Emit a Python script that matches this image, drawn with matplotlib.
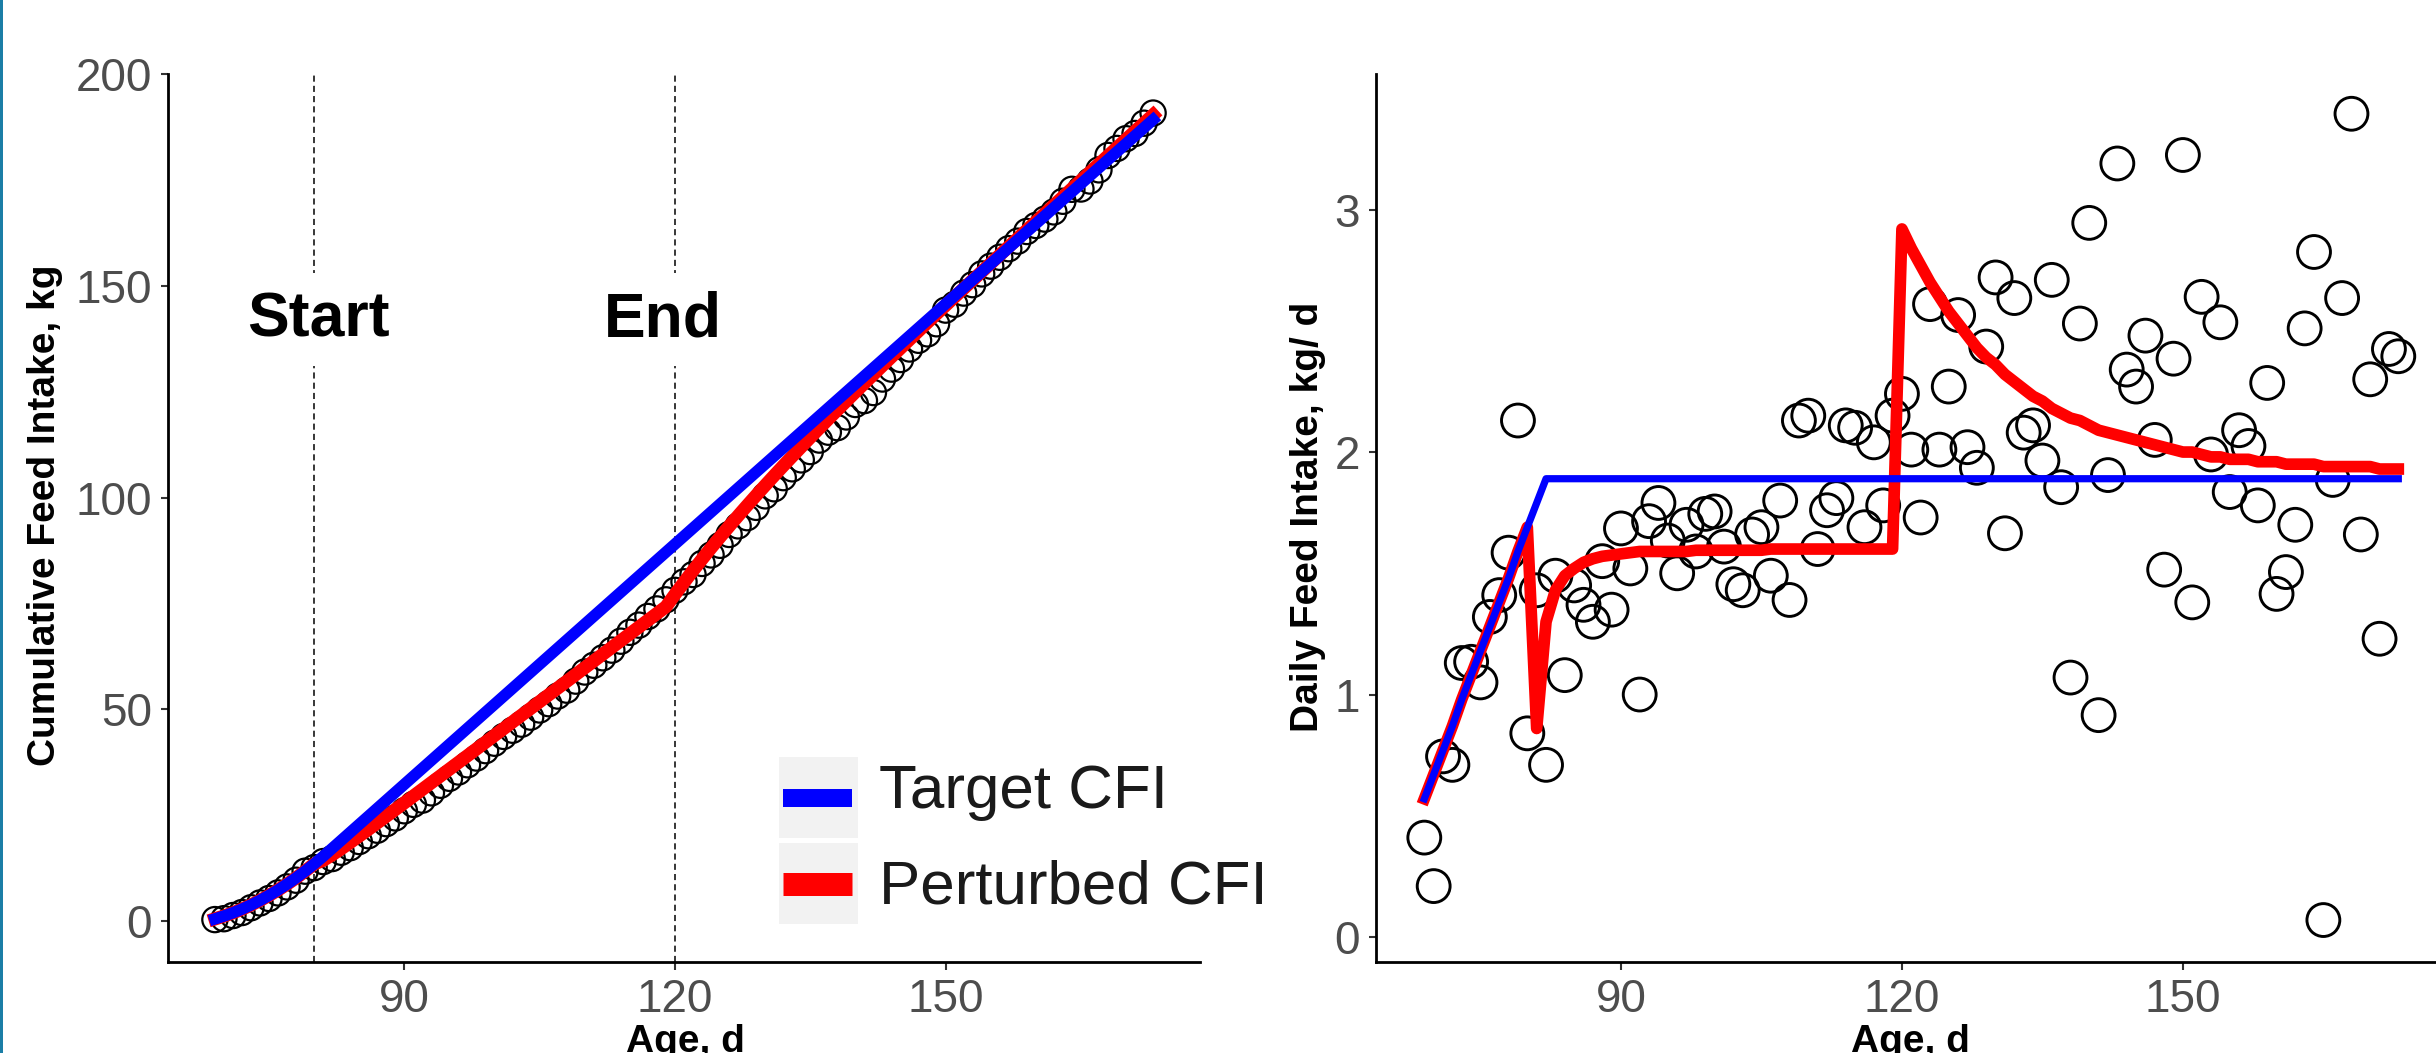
import numpy as np
import matplotlib
matplotlib.use("Agg")
import matplotlib.pyplot as plt
from matplotlib.lines import Line2D
from matplotlib.patches import Rectangle

plt.rcParams['font.family'] = ['Liberation Sans', 'DejaVu Sans']

# =========================
# Data
# =========================
age = list(range(69, 174))   # one record per day

# observed daily feed intake, kg/d
daily_intake = [
    0.41, 0.21, 0.745, 0.71, 1.13, 1.135, 1.05, 1.32, 1.41, 1.585,    # 69-78
    2.13, 0.84, 1.43, 0.71, 1.49, 1.08, 1.45, 1.37, 1.30, 1.55,       # 79-88
    1.35, 1.685, 1.52, 1.00, 1.715, 1.79, 1.635, 1.50, 1.70, 1.59,    # 89-98
    1.745, 1.755, 1.61, 1.455, 1.43, 1.66, 1.69, 1.49, 1.80, 1.39,    # 99-108
    2.13, 2.15, 1.60, 1.76, 1.81, 2.11, 2.10, 1.69, 2.04, 1.78,       # 109-118
    2.15, 2.24, 2.01, 1.73, 2.61, 2.01, 2.27, 2.565, 2.02, 1.935,     # 119-128
    2.435, 2.72, 1.665, 2.635, 2.08, 2.11, 1.965, 2.71, 1.855, 1.07,  # 129-138
    2.53, 2.945, 0.915, 1.905, 3.19, 2.34, 2.27, 2.48, 2.05, 1.515,   # 139-148
    2.385, 3.225, 1.38, 2.64, 1.99, 2.535, 1.835, 2.09, 2.025, 1.78,  # 149-158
    2.285, 1.415, 1.505, 1.70, 2.51, 2.825, 0.07, 1.885, 2.635, 3.395,  # 159-168
    1.66, 2.30, 1.23, 2.425, 2.395,                                   # 169-173
]

# target daily intake: ramp to day 82, then plateau
target_dfi = [0.57, 0.67, 0.77, 0.87, 0.98, 1.08, 1.18, 1.28, 1.38, 1.48,
              1.59, 1.69, 1.79, 1.89] + [1.89] * 91

# perturbed daily intake
perturbed_dfi = [
    0.57, 0.67, 0.77, 0.87, 0.98, 1.08, 1.18, 1.28, 1.38, 1.48, 1.59, 1.69,   # 69-80
    0.86, 1.30, 1.43, 1.49, 1.52, 1.545, 1.56, 1.57, 1.575, 1.58, 1.585, 1.59,  # 81-92
    1.59, 1.59, 1.59, 1.59, 1.59, 1.595, 1.595, 1.595, 1.595, 1.595, 1.595,
    1.595, 1.595, 1.60, 1.60, 1.60, 1.60, 1.60, 1.60, 1.60, 1.60, 1.60, 1.60,
    1.60, 1.60, 1.60, 1.60,                                                    # 93-119
    2.92, 2.84, 2.77, 2.70, 2.64, 2.58, 2.53, 2.48, 2.43, 2.39, 2.36, 2.32,
    2.29, 2.26, 2.23, 2.21, 2.18, 2.16, 2.14, 2.13, 2.11, 2.09, 2.08, 2.07,
    2.06, 2.05, 2.04, 2.03, 2.02, 2.01, 2.00, 2.00, 1.99, 1.98, 1.98, 1.97,
    1.97, 1.97, 1.96, 1.96, 1.96, 1.95, 1.95, 1.95, 1.95, 1.94, 1.94, 1.94,
    1.94, 1.94, 1.94, 1.93, 1.93, 1.93,                                        # 120-173
]

start_day, end_day = 80, 120
left_yticks = [0, 50, 100, 150, 200]
right_yticks = [0, 1, 2, 3]
xticks = [90, 120, 150]

# cumulative feed intake
cfi_obs = np.cumsum(daily_intake)
cfi_target = np.cumsum(target_dfi)
cfi_perturbed = np.cumsum(perturbed_dfi)

# =========================
# Figure
# =========================
W, H = 2436, 1053
fig = plt.figure(figsize=(W / 100, H / 100), dpi=100)

def fx(px):
    return px / W

def fy(py):
    return 1 - py / H

ax1 = fig.add_axes([fx(168), fy(962), fx(1200) - fx(168), fy(74) - fy(962)])
ax2 = fig.add_axes([fx(1375.6), fy(962), fx(2447) - fx(1375.6), fy(74) - fy(962)])

blue, red = "#0000FF", "#FF0000"

for ax in (ax1, ax2):
    for s in ("top", "right"):
        ax.spines[s].set_visible(False)
    for s in ("left", "bottom"):
        ax.spines[s].set_linewidth(2)
        ax.spines[s].set_color("black")
    ax.tick_params(axis="both", length=5.4, width=1.5, color="#333333",
                   pad=6, labelsize=33, labelcolor="#4D4D4D")
    ax.set_xticks(xticks)
    ax.set_xlim(63.8, 178.2)

# ---- left: cumulative feed intake
ax1.scatter(age, cfi_obs, s=330, facecolors="none", edgecolors="black",
            linewidths=1.6, zorder=2)
ax1.plot(age, cfi_perturbed, color=red, lw=9.5, solid_joinstyle="round", zorder=3)
ax1.plot(age, cfi_target, color=blue, lw=8.3, solid_joinstyle="round", zorder=4)
for d in (start_day, end_day):
    ax1.axvline(d, color="black", lw=1.1, dashes=(4, 2.7), zorder=1)
ax1.text(80.5, 142, "Start", fontsize=45, fontweight="bold", ha="center", va="center",
         bbox=dict(facecolor="white", edgecolor="none", pad=12), zorder=5)
ax1.text(118.7, 142, "End", fontsize=45, fontweight="bold", ha="center", va="center",
         bbox=dict(facecolor="white", edgecolor="none", pad=12), zorder=5)
ax1.set_ylim(-9.6, 200)
ax1.set_yticks(left_yticks)

# ---- right: daily feed intake
ax2.scatter(age, daily_intake, s=560, facecolors="none", edgecolors="black",
            linewidths=2.1, zorder=2)
ax2.plot(age, perturbed_dfi, color=red, lw=8.4, solid_joinstyle="round", zorder=3)
ax2.plot(age, target_dfi, color=blue, lw=5.2, solid_joinstyle="round", zorder=4)
ax2.set_ylim(-0.103, 3.559)
ax2.set_yticks(right_yticks)

# ---- axis titles
title_kw = dict(fontsize=28, fontweight="bold", color="black")
fig.text(fx(45), fy(515), "Cumulative Feed Intake, kg", rotation=90,
         ha="center", va="center", **title_kw)
fig.text(fx(1308), fy(517), "Daily Feed Intake, kg/ d", rotation=90,
         ha="center", va="center", **title_kw)
fig.text(fx(685), fy(1052), "Age, d", ha="center", va="baseline", **title_kw)
fig.text(fx(1910), fy(1052), "Age, d", ha="center", va="baseline", **title_kw)

# ---- legend (ggplot style keys)
keys = [("Target CFI", blue, 18, 757, 838, 808), ("Perturbed CFI", red, 23, 843, 924, 904)]
for label, col, lw_px, top, bot, base in keys:
    fig.add_artist(Rectangle((fx(778.5), fy(bot)), fx(857.7) - fx(778.5), fy(top) - fy(bot),
                             transform=fig.transFigure, facecolor="#F2F2F2",
                             edgecolor="none", zorder=6))
    yc = fy((top + bot) / 2)
    fig.add_artist(Line2D([fx(783), fx(852)], [yc, yc], transform=fig.transFigure,
                          color=col, lw=lw_px * 0.72, solid_capstyle="butt", zorder=7))
    fig.text(fx(879), fy(base), label, fontsize=44.6, color="#1A1A1A",
             ha="left", va="baseline", zorder=7)

# thin border stripe on the left edge
fig.add_artist(Rectangle((0, 0), fx(3), 1, transform=fig.transFigure,
                         facecolor="#1B7EA6", edgecolor="none"))

fig.savefig("out.png", dpi=100)
